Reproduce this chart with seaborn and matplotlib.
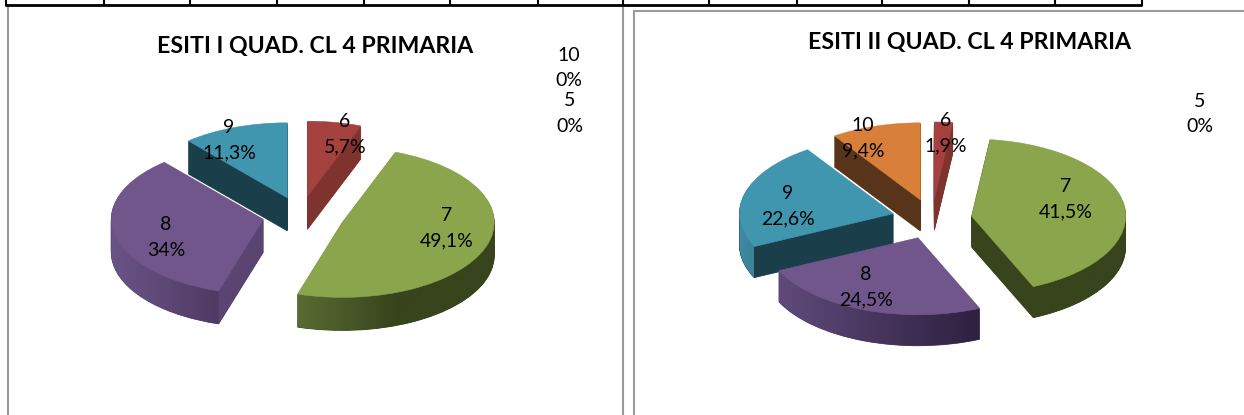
import numpy as np
import matplotlib
matplotlib.use('Agg')
import matplotlib.pyplot as plt
from matplotlib.lines import Line2D
from matplotlib.patches import Polygon
import seaborn as sns

categories = ['5', '6', '7', '8', '9', '10']
values_q1 = [0, 5.7, 49.1, 34, 11.3, 0]
values_q2 = [0, 1.9, 41.5, 24.5, 22.6, 9.4]
title_q1 = 'ESITI I QUAD. CL 4 PRIMARIA'
title_q2 = 'ESITI II QUAD. CL 4 PRIMARIA'

top_colors = ['#4F81BD', '#A5423F', '#8AA54C', '#71568B', '#4196AF', '#D8803A']
cut_colors = ['#2A4A70', '#7F332F', '#37441C', '#5A4472', '#1B3E4B', '#57341A']

W, H = 1244, 415

sns.set_theme(style='white')
plt.rcParams['font.family'] = ['Lato', 'DejaVu Sans']

fig = plt.figure(figsize=(W / 100, H / 100), dpi=100, facecolor='white')


def fig_line(x, y, color='black', lw=1.5):
    fig.add_artist(Line2D(np.array(x) / W, 1 - np.array(y) / H, color=color, lw=lw,
                          transform=fig.transFigure, solid_capstyle='butt'))


def draw_pie(values, explode, cx, cy, rx, ry, depth, walls):
    d = depth / ry
    ax = fig.add_axes([(cx - 1.6 * rx) / W, 1 - (cy + (1.6 + d) * ry) / H, 3.2 * rx / W, (3.2 + d) * ry / H])
    total = sum(values)
    edges = np.cumsum([0] + values) / total * 360
    mids = np.radians((edges[:-1] + edges[1:]) / 2)
    rank = np.argsort(np.argsort(-np.cos(mids) * np.array(explode)))

    # dark layers make the cut faces, then the top face goes over them
    for shift in np.arange(d, 0, -1 / ry):
        wedges, _ = ax.pie(values, explode=explode, colors=cut_colors, startangle=90, counterclock=False,
                           center=(0, -shift), wedgeprops={'linewidth': 0.6})
        for i, w in enumerate(wedges):
            w.set_edgecolor(cut_colors[i])
            w.set_zorder(rank[i] * 10 + 1)
            w.set_visible(values[i] > 0)
    wedges, _ = ax.pie(values, explode=explode, colors=top_colors, startangle=90, counterclock=False,
                       wedgeprops={'linewidth': 0.4})
    for i, w in enumerate(wedges):
        w.set_edgecolor(top_colors[i])
        w.set_zorder(rank[i] * 10 + 5)
        w.set_visible(values[i] > 0)

    # shaded outer wall of the slices that face the viewer
    for i, pair in walls.items():
        a0, a1 = max(edges[i], 90), min(edges[i + 1], 270)
        th = np.radians(np.linspace(a0, a1, 80))
        ox, oy = explode[i] * np.sin(mids[i]), explode[i] * np.cos(mids[i])
        xs, ys = ox + np.sin(th), oy + np.cos(th)
        pts = np.vstack([np.c_[xs, ys], np.c_[xs, ys - d][::-1]])
        poly = Polygon(pts, transform=ax.transData, facecolor='none', edgecolor='none')
        cmap = sns.blend_palette(pair, as_cmap=True)
        im = ax.imshow(np.linspace(0, 1, 256)[None, :], cmap=cmap, aspect='auto', zorder=rank[i] * 10 + 3,
                       extent=[xs.min(), xs.max(), pts[:, 1].min(), pts[:, 1].max()])
        im.set_clip_path(poly)

    ax.set_aspect('auto')
    ax.set_xlim(-1.6, 1.6)
    ax.set_ylim(-1.6 - d, 1.6)
    ax.axis('off')
    ax.patch.set_alpha(0)


def put_labels(values, spots):
    for cat, v, spot in zip(categories, values, spots):
        txt = cat + '\n' + f'{v:g}'.replace('.', ',') + '%'
        fig.text(spot[0] / W, 1 - spot[1] / H, txt, ha='center', va='center', fontsize=14,
                 linespacing=1.6, color='black', zorder=20)


# table stub at the top
fig_line([5, 1142], [5, 5], lw=2)
for x in [6, 104, 190, 277, 364, 450, 538, 623, 709, 797, 882, 969, 1055, 1142]:
    fig_line([x, x], [0, 6], lw=1.5)

# chart frames
fig_line([8, 8], [7, 415], color='#9a9a9a', lw=1.5)
fig_line([622.5, 622.5], [7, 415], color='#9a9a9a', lw=1.5)
fig_line([633.5, 633.5], [11.5, 415], color='#9a9a9a', lw=1.5)
fig_line([633, 1244], [11.5, 11.5], color='#9a9a9a', lw=1.5)

draw_pie(values_q1, [0, 0.26, 0.29, 0.25, 0.25, 0], 300.5, 215.4, 152, 75, 33,
         {2: ('#5A6B33', '#37441C', '#37441C'), 3: ('#6A5488', '#4F3A63')})
draw_pie(values_q2, [0, 0.26, 0.26, 0.26, 0.26, 0.26], 932, 219, 154, 77, 31,
         {2: ('#37441C', '#37441C'), 3: ('#5F4A7A', '#2F2040'), 4: ('#3F8CA3', '#3A8197')})

fig.text(315 / W, 1 - 46 / H, title_q1, ha='center', va='center', fontsize=16.7, fontweight='bold', color='black')
fig.text(969 / W, 1 - 42 / H, title_q2, ha='center', va='center', fontsize=16.7, fontweight='bold', color='black')

put_labels(values_q1, [(569.5, 113.5), (345, 134), (447, 228.5), (166, 237.5), (229, 140.5), (569, 68)])
put_labels(values_q2, [(1200, 114), (946, 133), (1066, 199.5), (866, 287.5), (788, 206.5), (863, 138)])

fig.savefig('out.png', dpi=100)
